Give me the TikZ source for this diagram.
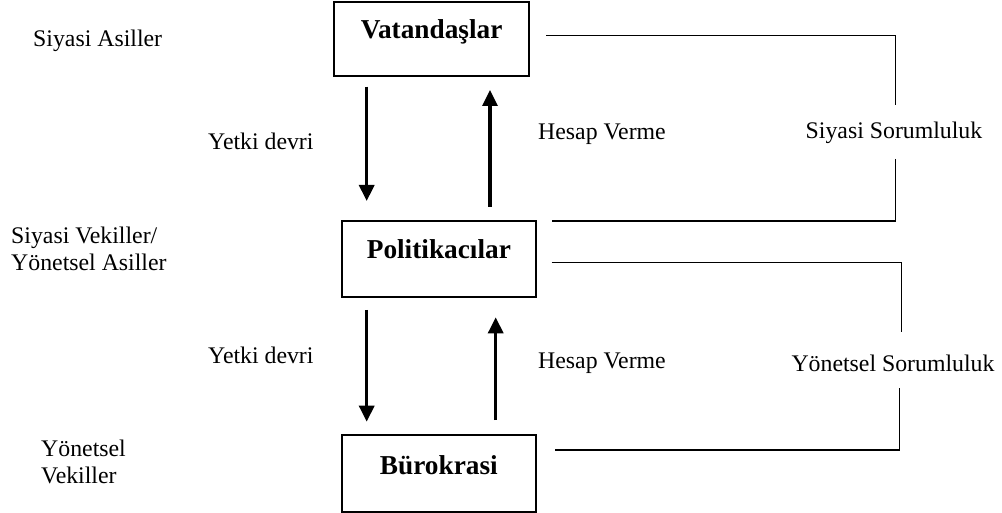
\documentclass[tikz,border=0pt]{standalone}
\usepackage{fontspec}
\setmainfont{Liberation Serif}
\usetikzlibrary{arrows.meta}
\begin{document}
\begin{tikzpicture}[x=1pt,y=-1pt,
  lbl/.style={inner sep=0, anchor=base west, font=\fontsize{23.8}{27}\selectfont},
  box/.style={draw, line width=2, inner sep=0, outer sep=0, anchor=north west, font=\fontsize{27.3}{30}\selectfont\bfseries},
  bigarrow/.style={line width=3.3, -{Triangle[width=15,length=16]}},
  bracket/.style={line width=1.3}]
\useasboundingbox (0,0) rectangle (1002,513);
% boxes
\node[box, minimum width=195.3, text height=37, text depth=37] (V) at (334,2) {Vatandaşlar};
\node[box, minimum width=194.3, text height=38, text depth=37.7] (P) at (341.7,221) {Politikacılar};
\node[box, minimum width=194.3, text height=39, text depth=37.7] (B) at (341.7,435) {Bürokrasi};
% arrow ends
\coordinate (a1s) at (366.7,86.7);
\coordinate (a1e) at (366.7,201);
\coordinate (a2s) at (490,206.7);
\coordinate (a2e) at (490,90);
\coordinate (a3s) at (366.7,310);
\coordinate (a3e) at (366.7,421.7);
\coordinate (a4s) at (495.7,420);
\coordinate (a4e) at (495.7,317.3);
\draw[bigarrow] (a1s) -- (a1e);
\draw[bigarrow] (a2s) -- (a2e);
\draw[bigarrow] (a3s) -- (a3e);
\draw[bigarrow] (a4s) -- (a4e);
% labels
\node[lbl] (sa) at (33,46.7) {Siyasi Asiller};
\node[lbl] (yd1) at (208,149.3) {Yetki devri};
\node[lbl] (hv1) at (538,140) {Hesap Verme};
\node[lbl, anchor=base] (ss) at (894,138.3) {Siyasi Sorumluluk};
\node[lbl, align=left] (sv) at (11,271) {Siyasi Vekiller/\\Yönetsel Asiller};
\node[lbl] (yd2) at (208,363.3) {Yetki devri};
\node[lbl] (hv2) at (538,368.3) {Hesap Verme};
\node[lbl, anchor=base] (ys) at (893,371.7) {Yönetsel Sorumluluk};
\node[lbl, align=left] (yv) at (41,483.3) {Yönetsel\\Vekiller};
% brackets
\coordinate (b1a) at (546,35.7);
\coordinate (b1b) at (895.3,105);
\coordinate (b1c) at (895.3,159);
\coordinate (b1d) at (551.7,221);
\coordinate (b2a) at (551.7,262.3);
\coordinate (b2b) at (901.7,331.7);
\coordinate (b2c) at (899.3,388.3);
\coordinate (b2d) at (555,450);
\draw[bracket] (b1a) -| (b1b);
\draw[bracket] (b1c) |- (b1d);
\draw[bracket] (b2a) -| (b2b);
\draw[bracket] (b2c) |- (b2d);
\end{tikzpicture}
\end{document}
